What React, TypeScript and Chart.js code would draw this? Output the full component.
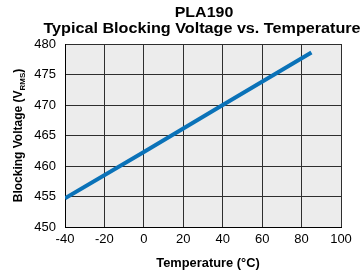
import React, { useEffect, useRef } from "react";
import { Chart, registerables } from "chart.js";

Chart.register(...registerables);

const titleLines = ["PLA190", "Typical Blocking Voltage vs. Temperature"];
const xTitle = "Temperature (°C)";
const yTitleMain = "Blocking Voltage (V";
const yTitleSub = "RMS";
const yTitleEnd = ")";
const temperatures = [-40, 0, 40, 85];
const voltages = [454.7, 462.3, 470.0, 478.6];
const xTicks = [-40, -20, 0, 20, 40, 60, 80, 100];
const yTicks = [450, 455, 460, 465, 470, 475, 480];

const FONT = "'Liberation Sans', Arial, Helvetica, sans-serif";

function stretchedText(ctx: any, text: string, cx: number, y: number, sx: number) {
  ctx.save();
  ctx.translate(cx, y);
  ctx.scale(sx, 1);
  ctx.textAlign = "center";
  ctx.fillText(text, 0, 0);
  ctx.restore();
}

export default function App() {
  const ref = useRef<HTMLCanvasElement>(null);
  useEffect(() => {
    document.body.style.margin = "0";
    const canvas = ref.current!;
    const deco = {
      id: "deco",
      beforeDraw(chart: any) {
        const { ctx, chartArea: a } = chart;
        ctx.save();
        ctx.fillStyle = "#ececec";
        ctx.fillRect(a.left, a.top, a.right - a.left, a.bottom - a.top);
        ctx.restore();
      },
      afterDraw(chart: any) {
        const { ctx, chartArea: a } = chart;
        const cx = (a.left + a.right) / 2;
        ctx.save();
        ctx.fillStyle = "#000";
        ctx.textBaseline = "alphabetic";
        ctx.font = `bold 14px ${FONT}`;
        stretchedText(ctx, titleLines[0], cx + 1, 17, 1.14);
        stretchedText(ctx, titleLines[1], cx - 1, 33, 1.155);
        ctx.font = `bold 12px ${FONT}`;
        stretchedText(ctx, xTitle, cx + 5, 267, 1.07);
        // y title
        ctx.translate(22, (a.top + a.bottom) / 2);
        ctx.rotate(-Math.PI / 2);
        ctx.font = `bold 12px ${FONT}`;
        const w1 = ctx.measureText(yTitleMain).width;
        const w3 = ctx.measureText(yTitleEnd).width;
        ctx.font = `bold 8px ${FONT}`;
        const w2 = ctx.measureText(yTitleSub).width;
        const total = w1 + w2 + w3;
        let x = -total / 2;
        ctx.textAlign = "left";
        ctx.font = `bold 12px ${FONT}`;
        ctx.fillText(yTitleMain, x, 0);
        x += w1;
        ctx.font = `bold 8px ${FONT}`;
        ctx.fillText(yTitleSub, x, 3);
        x += w2;
        ctx.font = `bold 12px ${FONT}`;
        ctx.fillText(yTitleEnd, x, 0);
        ctx.restore();
      },
    };
    const chart = new Chart(canvas, {
      type: "scatter",
      data: {
        datasets: [
          {
            data: temperatures.map((t, i) => ({ x: t, y: voltages[i] })),
            showLine: true,
            borderColor: "#0a72b8",
            borderWidth: 4,
            pointRadius: 0,
            borderCapStyle: "butt",
          },
        ],
      },
      options: {
        animation: false,
        responsive: false,
        layout: { padding: { left: 30, right: 23, top: 44, bottom: 0 } },
        plugins: { legend: { display: false }, tooltip: { enabled: false } },
        scales: {
          x: {
            type: "linear",
            min: xTicks[0],
            max: xTicks[xTicks.length - 1],
            afterFit: (s: any) => {
              s.height = 49;
            },
            afterBuildTicks: (s: any) => {
              s.ticks = xTicks.map((v) => ({ value: v }));
            },
            ticks: {
              color: "#000",
              font: { family: FONT, size: 13 },
              padding: 5,
              maxRotation: 0,
            },
            grid: { color: "#2e2e2e", lineWidth: 1, drawTicks: false },
            border: { color: "#000", width: 1 },
          },
          y: {
            min: yTicks[0],
            max: yTicks[yTicks.length - 1],
            afterFit: (s: any) => {
              s.width = 35;
            },
            afterBuildTicks: (s: any) => {
              s.ticks = yTicks.map((v) => ({ value: v }));
            },
            ticks: {
              color: "#000",
              font: { family: FONT, size: 13 },
              padding: 9,
            },
            grid: { color: "#2e2e2e", lineWidth: 1, drawTicks: false },
            border: { color: "#000", width: 1 },
          },
        },
      },
      plugins: [deco],
    } as any);
    return () => chart.destroy();
  }, []);
  return (
    <div style={{ position: "absolute", left: 0, top: 0, width: 364, height: 276 }}>
      <canvas ref={ref} width={364} height={276} />
    </div>
  );
}
